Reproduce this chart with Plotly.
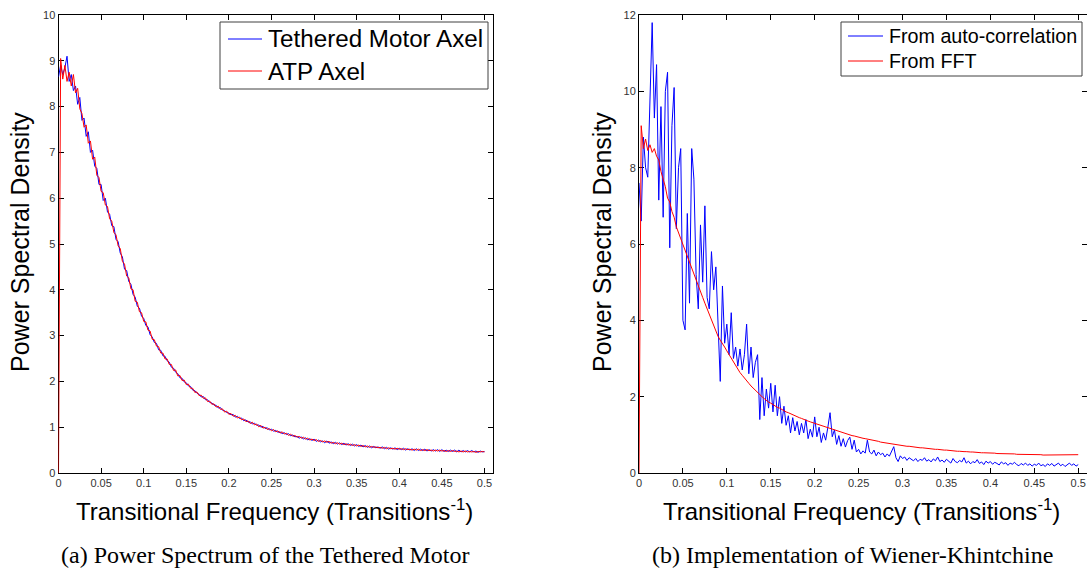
import plotly.graph_objects as go

# Sample spacing of the spectra (Transitions^-1); 201 samples from 0 to 0.5
DF = 0.0025

# (a) Power spectrum of the tethered motor
tethered_motor = [
    8.65, 8.9, 8.7, 8.85, 9.1, 8.55, 8.7, 8.35, 8.45, 8.05,
    8.2, 7.7, 7.75, 7.35, 7.45, 7.0, 7.05, 6.7, 6.65, 6.3,
    6.3, 5.95, 6.0, 5.7, 5.65, 5.4, 5.38, 5.1, 5.05, 4.8,
    4.72, 4.45, 4.42, 4.18, 4.12, 3.9, 3.84, 3.64, 3.6, 3.42,
    3.38, 3.22, 3.19, 3.02, 2.97, 2.85, 2.83, 2.69, 2.68, 2.56,
    2.55, 2.45, 2.42, 2.31, 2.29, 2.2, 2.17, 2.08, 2.07, 1.99,
    1.97, 1.9, 1.89, 1.81, 1.8, 1.74, 1.72, 1.66, 1.67, 1.6,
    1.6, 1.54, 1.53, 1.48, 1.48, 1.42, 1.43, 1.37, 1.36, 1.32,
    1.31, 1.27, 1.28, 1.22, 1.24, 1.19, 1.2, 1.14, 1.16, 1.11,
    1.12, 1.07, 1.09, 1.04, 1.05, 1.0, 1.02, 0.97, 0.99, 0.94,
    0.96, 0.91, 0.93, 0.89, 0.9, 0.86, 0.88, 0.84, 0.86, 0.81,
    0.83, 0.79, 0.8, 0.76, 0.79, 0.74, 0.77, 0.72, 0.75, 0.71,
    0.74, 0.69, 0.72, 0.68, 0.7, 0.66, 0.7, 0.65, 0.68, 0.64,
    0.67, 0.63, 0.66, 0.62, 0.65, 0.61, 0.64, 0.6, 0.63, 0.59,
    0.62, 0.58, 0.61, 0.57, 0.6, 0.56, 0.59, 0.55, 0.58, 0.55,
    0.57, 0.54, 0.57, 0.53, 0.56, 0.52, 0.55, 0.52, 0.55, 0.51,
    0.54, 0.51, 0.54, 0.5, 0.53, 0.5, 0.53, 0.49, 0.53, 0.49,
    0.52, 0.49, 0.52, 0.48, 0.51, 0.48, 0.51, 0.48, 0.51, 0.47,
    0.51, 0.47, 0.5, 0.47, 0.5, 0.47, 0.5, 0.46, 0.5, 0.46,
    0.49, 0.46, 0.49, 0.46, 0.49, 0.46, 0.48, 0.45, 0.48, 0.46,
    0.47,
]
atp_axel = [
    0.0, 9.05, 8.6, 8.9, 8.55, 8.75, 8.45, 8.7, 8.3, 8.4,
    7.95, 7.85, 7.55, 7.6, 7.2, 7.25, 6.85, 6.9, 6.5, 6.45,
    6.15, 6.12, 5.85, 5.82, 5.55, 5.5, 5.25, 5.2, 4.96, 4.9,
    4.62, 4.56, 4.3, 4.26, 4.02, 4.0, 3.75, 3.73, 3.52, 3.5,
    3.31, 3.3, 3.12, 3.1, 2.92, 2.91, 2.77, 2.76, 2.62, 2.62,
    2.49, 2.49, 2.37, 2.37, 2.24, 2.25, 2.12, 2.13, 2.02, 2.03,
    1.93, 1.94, 1.85, 1.85, 1.76, 1.77, 1.69, 1.7, 1.63, 1.64,
    1.56, 1.57, 1.5, 1.51, 1.44, 1.46, 1.39, 1.4, 1.33, 1.35,
    1.28, 1.3, 1.24, 1.26, 1.2, 1.22, 1.16, 1.18, 1.12, 1.14,
    1.08, 1.11, 1.05, 1.07, 1.01, 1.04, 0.98, 1.0, 0.95, 0.97,
    0.92, 0.95, 0.9, 0.92, 0.87, 0.9, 0.85, 0.87, 0.82, 0.85,
    0.8, 0.82, 0.78, 0.8, 0.76, 0.78, 0.74, 0.76, 0.72, 0.74,
    0.71, 0.73, 0.69, 0.71, 0.68, 0.7, 0.67, 0.69, 0.65, 0.67,
    0.64, 0.66, 0.63, 0.65, 0.62, 0.64, 0.61, 0.63, 0.6, 0.62,
    0.59, 0.61, 0.58, 0.6, 0.57, 0.59, 0.56, 0.58, 0.56, 0.57,
    0.55, 0.56, 0.54, 0.56, 0.53, 0.55, 0.53, 0.54, 0.52, 0.54,
    0.52, 0.53, 0.51, 0.53, 0.51, 0.52, 0.5, 0.52, 0.5, 0.52,
    0.49, 0.51, 0.49, 0.51, 0.49, 0.5, 0.48, 0.5, 0.48, 0.5,
    0.48, 0.49, 0.47, 0.49, 0.47, 0.49, 0.47, 0.48, 0.46, 0.48,
    0.46, 0.48, 0.46, 0.47, 0.46, 0.47, 0.45, 0.47, 0.46, 0.47,
    0.46,
]

# (b) Wiener-Khintchine: PSD from the auto-correlation vs. directly from the FFT
from_autocorr = [
    7.6, 6.6, 8.8, 8.0, 7.75, 10.05, 11.8, 9.3, 10.7, 7.15,
    9.6, 6.7, 10.0, 10.5, 5.9, 9.1, 10.1, 6.4, 8.0, 8.5,
    4.0, 3.75, 6.8, 4.45, 8.5, 7.7, 5.2, 4.3, 6.5, 5.0,
    7.0, 4.6, 4.3, 5.8, 4.8, 5.4, 3.6, 2.4, 4.9, 3.4,
    3.9, 3.1, 4.2, 3.0, 3.3, 2.8, 3.25, 2.7, 3.1, 3.9,
    2.6, 3.3, 2.5, 2.9, 3.1, 1.4, 2.5, 1.5, 2.2, 1.7,
    2.35, 1.6, 2.3, 1.5, 2.0, 1.3, 1.75, 1.25, 1.5, 1.05,
    1.45, 1.1, 1.35, 1.0, 1.3, 1.05, 1.4, 0.9, 1.15, 0.94,
    1.47, 0.95, 1.2, 0.8, 1.05, 0.86, 1.2, 1.58, 0.95, 1.13,
    0.75, 0.98, 0.7, 0.9, 0.68, 0.85, 0.94, 0.62, 0.86, 0.55,
    0.62, 0.5, 0.58, 0.52, 0.86, 0.55, 0.5, 0.6, 0.45, 0.55,
    0.48, 0.52, 0.42, 0.5, 0.44, 0.58, 0.69, 0.4, 0.3, 0.45,
    0.38, 0.42, 0.33, 0.4, 0.35, 0.32, 0.38, 0.3, 0.36, 0.33,
    0.4, 0.31, 0.35, 0.29, 0.37, 0.32, 0.42, 0.3, 0.34, 0.28,
    0.36, 0.31, 0.26, 0.38, 0.3, 0.27, 0.33, 0.29, 0.4, 0.26,
    0.31, 0.24, 0.3, 0.27, 0.35, 0.25, 0.29, 0.22, 0.31, 0.26,
    0.3, 0.23, 0.28, 0.25, 0.21, 0.29, 0.24, 0.27, 0.2, 0.26,
    0.23, 0.28, 0.22, 0.19, 0.25, 0.21, 0.26, 0.2, 0.24, 0.18,
    0.23, 0.2, 0.26, 0.19, 0.22, 0.17, 0.24, 0.2, 0.25, 0.18,
    0.21, 0.26, 0.19, 0.23, 0.17, 0.22, 0.26, 0.2, 0.24, 0.18,
    0.22,
]
from_fft = [
    0.0, 9.1, 8.5, 8.75, 8.45, 8.6, 8.4, 8.5, 8.3, 8.2,
    7.9, 7.7, 7.5, 7.2, 7.1, 6.85, 6.7, 6.45, 6.3, 6.1,
    5.95, 5.8, 5.65, 5.5, 5.35, 5.2, 5.05, 4.9, 4.75, 4.6,
    4.45, 4.3, 4.15, 4.0, 3.86, 3.72, 3.58, 3.48, 3.4, 3.3,
    3.2, 3.1, 3.0, 2.9, 2.8, 2.72, 2.63, 2.56, 2.48, 2.42,
    2.35, 2.28, 2.22, 2.16, 2.1, 2.05, 2.0, 1.95, 1.9, 1.86,
    1.83, 1.79, 1.76, 1.72, 1.7, 1.66, 1.63, 1.6, 1.58, 1.55,
    1.52, 1.5, 1.47, 1.45, 1.43, 1.4, 1.38, 1.36, 1.34, 1.32,
    1.3, 1.28, 1.26, 1.24, 1.22, 1.2, 1.18, 1.16, 1.14, 1.12,
    1.1, 1.09, 1.07, 1.05, 1.03, 1.02, 1.0, 0.98, 0.97, 0.95,
    0.94, 0.93, 0.91, 0.9, 0.89, 0.88, 0.86, 0.85, 0.84, 0.83,
    0.81, 0.8, 0.79, 0.78, 0.77, 0.76, 0.75, 0.74, 0.73, 0.73,
    0.72, 0.71, 0.7, 0.7, 0.69, 0.68, 0.68, 0.67, 0.66, 0.66,
    0.65, 0.65, 0.64, 0.63, 0.63, 0.62, 0.62, 0.61, 0.61, 0.6,
    0.6, 0.59, 0.59, 0.58, 0.58, 0.57, 0.57, 0.56, 0.56, 0.56,
    0.55, 0.55, 0.55, 0.54, 0.54, 0.54, 0.53, 0.53, 0.53, 0.52,
    0.52, 0.52, 0.52, 0.51, 0.51, 0.51, 0.51, 0.5, 0.5, 0.5,
    0.5, 0.5, 0.49, 0.49, 0.49, 0.49, 0.49, 0.48, 0.48, 0.48,
    0.48, 0.48, 0.48, 0.48, 0.47, 0.47, 0.47, 0.47, 0.47, 0.47,
    0.47, 0.47, 0.47, 0.47, 0.47, 0.47, 0.48, 0.47, 0.48, 0.48,
    0.48,
]

x_ticks = [0, 0.05, 0.1, 0.15, 0.2, 0.25, 0.3, 0.35, 0.4, 0.45, 0.5]
x_tick_text = ["0", "0.05", "0.1", "0.15", "0.2", "0.25", "0.3", "0.35", "0.4", "0.45", "0.5"]

x_title = "Transitional Frequency (Transitions<sup>-1</sup>)"
y_title = "Power Spectral Density"
captions = ["(a) Power Spectrum of the Tethered Motor", "(b) Implementation of Wiener-Khintchine"]


def freq(values):
    return [round(DF * i, 4) for i in range(len(values))]


W, H = 1087, 568
SANS = "Liberation Sans, Arial, sans-serif"
SERIF = "Liberation Serif, DejaVu Serif, serif"
BLUE = "#0000ff"
RED = "#ff0000"


def px_x(p):
    return p / W


def px_y(p):
    return (H - p) / H


series = [
    # (values, name, colour, xaxis, yaxis)
    (tethered_motor, "Tethered Motor Axel", BLUE, "x", "y"),
    (atp_axel, "ATP Axel", RED, "x", "y"),
    (from_autocorr, "From auto-correlation", BLUE, "x2", "y2"),
    (from_fft, "From FFT", RED, "x2", "y2"),
]

fig = go.Figure()
for values, name, colour, xa, ya in series:
    fig.add_trace(go.Scatter(x=freq(values), y=values, mode="lines", name=name,
                             line=dict(color=colour, width=1),
                             xaxis=xa, yaxis=ya, showlegend=False))

y_dom = [px_y(473), px_y(15)]

axis_common = dict(
    showline=True, linecolor="black", linewidth=1, mirror="ticks",
    ticks="inside", ticklen=5, tickwidth=1, tickcolor="black",
    showgrid=False, zeroline=False, fixedrange=True, layer="below traces",
    automargin=False,
    tickfont=dict(family=SANS, size=11, color="#333333"),
)

fig.update_layout(
    width=W, height=H,
    margin=dict(l=0, r=0, t=0, b=0, pad=0, autoexpand=False),
    paper_bgcolor="white", plot_bgcolor="white",
    xaxis=dict(domain=[px_x(58.5), px_x(493)], range=[0, 0.51], anchor="y",
               tickvals=x_ticks, ticktext=x_tick_text, **axis_common),
    yaxis=dict(domain=y_dom, range=[0, 10], anchor="x",
               tickmode="linear", tick0=0, dtick=1, **axis_common),
    xaxis2=dict(domain=[px_x(639), 1.0], range=[0, 0.51], anchor="y2",
                tickvals=x_ticks, ticktext=x_tick_text, **axis_common),
    yaxis2=dict(domain=y_dom, range=[0, 12], anchor="x2",
                tickmode="linear", tick0=0, dtick=2, **axis_common),
    showlegend=False,
)

shapes = []
annotations = []

# Boxed legends: (box left, top, right, bottom, sample x0, x1, text x, row ys, font size, entries)
legend_boxes = [
    (220, 22, 488, 89, 228, 262, 266, [39, 71], 24.2, series[:2]),
    (841, 22, 1082, 76, 848, 883, 887, [36, 61], 19.7, series[2:]),
]
for x0, y0, x1, y1, sx0, sx1, tx, rows, fsize, entries in legend_boxes:
    shapes.append(dict(type="rect", xref="paper", yref="paper",
                       x0=px_x(x0), x1=px_x(x1), y0=px_y(y1), y1=px_y(y0),
                       line=dict(color="#404040", width=1), fillcolor="white", layer="above"))
    for ry, (_, name, colour, _, _) in zip(rows, entries):
        shapes.append(dict(type="line", xref="paper", yref="paper",
                           x0=px_x(sx0), x1=px_x(sx1), y0=px_y(ry), y1=px_y(ry),
                           line=dict(color=colour, width=1), layer="above"))
        annotations.append(dict(text=name, x=px_x(tx), y=px_y(ry), xref="paper", yref="paper",
                                xanchor="left", yanchor="middle", showarrow=False,
                                font=dict(family=SANS, size=fsize, color="black")))

for cx, ylab_x in [(274, 20), (861.5, 602)]:
    annotations.append(dict(text=x_title, x=px_x(cx), y=px_y(510), xref="paper", yref="paper",
                            xanchor="center", yanchor="middle", showarrow=False,
                            font=dict(family=SANS, size=24, color="black")))
    annotations.append(dict(text=y_title, x=px_x(ylab_x), y=px_y(242), xref="paper", yref="paper",
                            xanchor="center", yanchor="middle", showarrow=False, textangle=-90,
                            font=dict(family=SANS, size=25, color="black")))
for cap, cap_x in zip(captions, [264.5, 852]):
    annotations.append(dict(text=cap, x=px_x(cap_x), y=px_y(555), xref="paper", yref="paper",
                            xanchor="center", yanchor="middle", showarrow=False,
                            font=dict(family=SERIF, size=24, color="black")))

fig.update_layout(shapes=shapes, annotations=annotations)

fig.write_html("out.html")
